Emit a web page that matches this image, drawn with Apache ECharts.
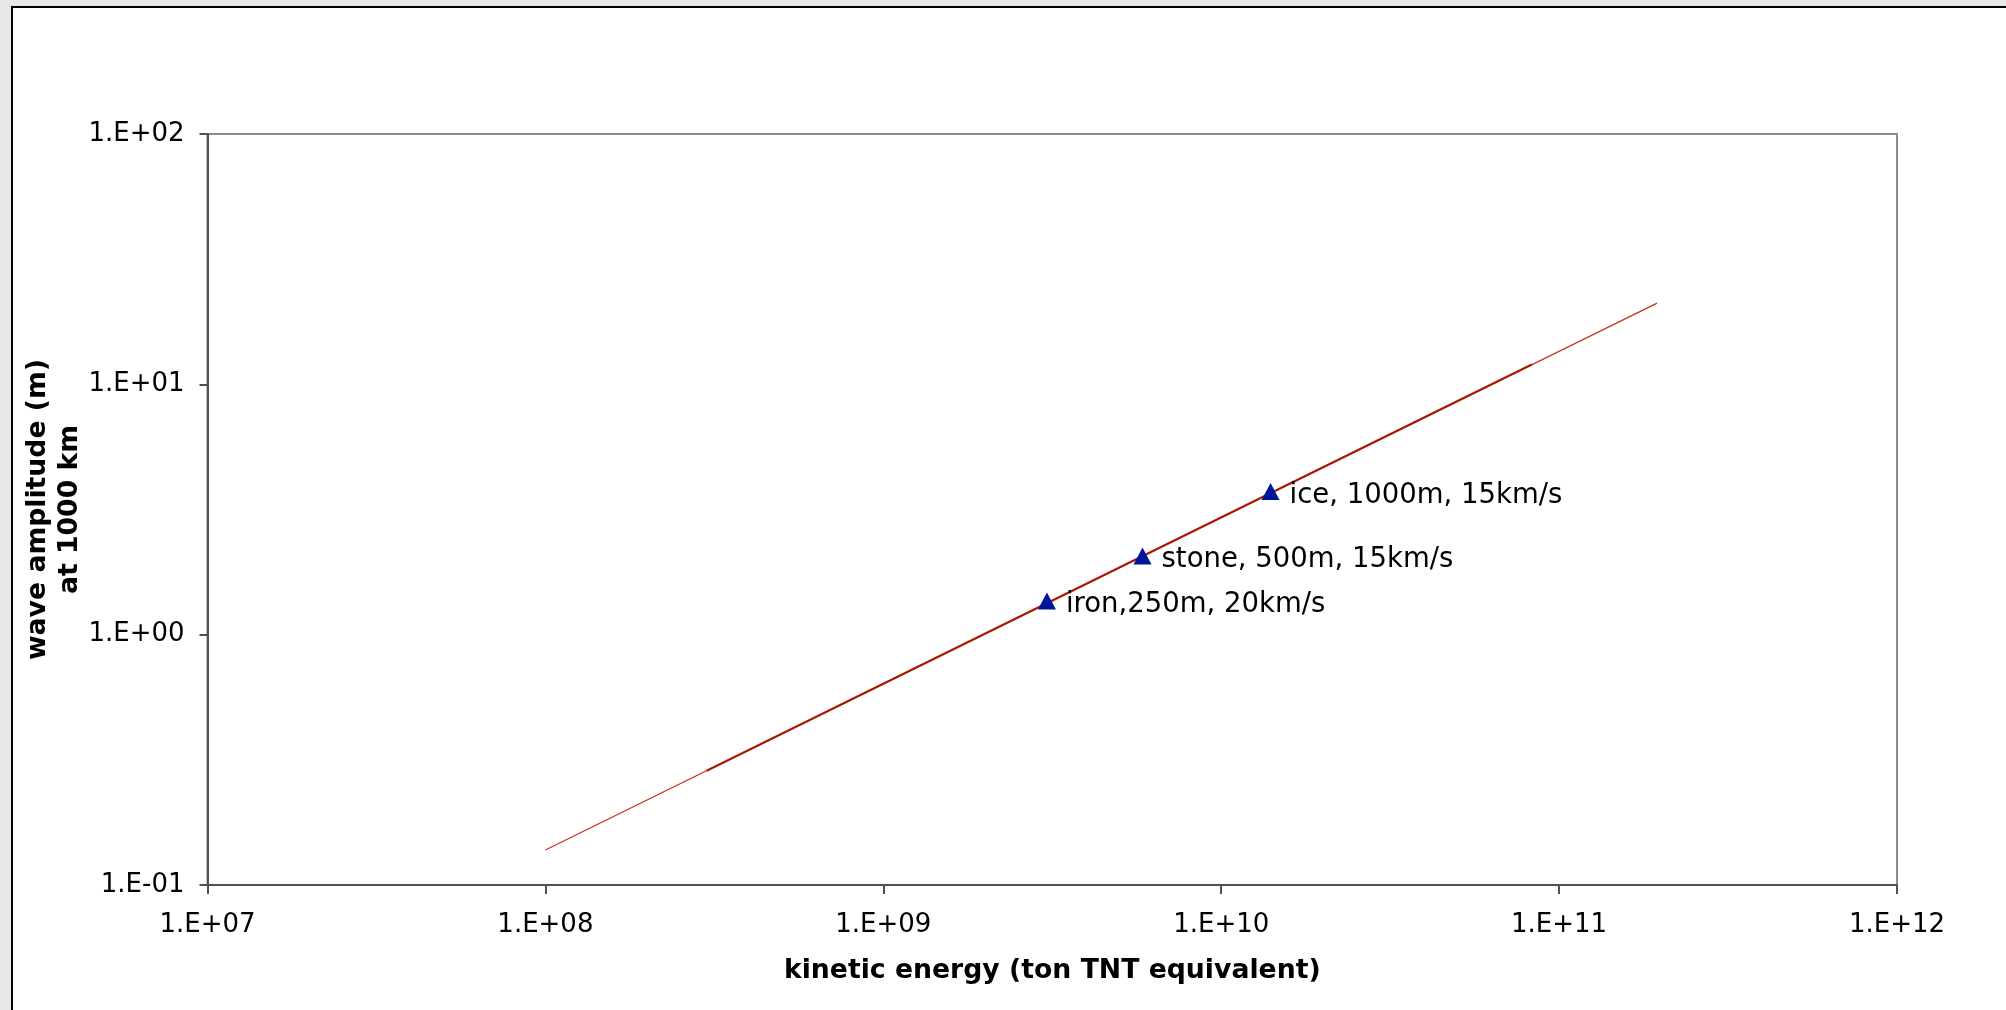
<!DOCTYPE html>
<html>
<head>
<meta charset="utf-8">
<script src="https://cdn.jsdelivr.net/npm/echarts@6/dist/echarts.min.js"></script>
<style>
html,body{margin:0;padding:0;background:#e8e8e8;}
#c{width:2006px;height:1010px;}
</style>
</head>
<body>
<div id="c"></div>
<script>
// Data
var xTicks = [1e7, 1e8, 1e9, 1e10, 1e11, 1e12];
var yTicks = [0.1, 1, 10, 100];
var fitLine = [[1e8, 0.138], [1.95e11, 21.1]];
var fitLineDark = [[3e8, 0.286], [8.3e10, 12.0]];
var pointNames = ['iron,250m, 20km/s', 'stone, 500m, 15km/s', 'ice, 1000m, 15km/s'];
var pointEnergy = [3.05e9, 5.85e9, 1.40e10];
var pointAmplitude = [1.364, 2.06, 3.73];

function sci(v) {
  var e = Math.round(Math.log10(v));
  var s = Math.abs(e) < 10 ? '0' + Math.abs(e) : '' + Math.abs(e);
  return '1.E' + (e < 0 ? '-' : '+') + s;
}

var pts = pointNames.map(function (n, i) {
  return { name: n, value: [pointEnergy[i], pointAmplitude[i]] };
});

var FONT = 'DejaVu Sans';
var chart = echarts.init(document.getElementById('c'));
chart.setOption({
  backgroundColor: '#e8e8e8',
  animation: false,
  graphic: [{
    type: 'rect',
    shape: { x: 12, y: 7, width: 2010, height: 1020 },
    style: { fill: '#ffffff', stroke: '#000000', lineWidth: 2 },
    z: -10
  }],
  grid: {
    left: 207.5, right: 109, top: 134, bottom: 125,
    show: true, borderColor: '#8c8c8c', borderWidth: 2, backgroundColor: 'transparent'
  },
  xAxis: {
    type: 'log', logBase: 10, min: xTicks[0], max: xTicks[xTicks.length - 1],
    name: 'kinetic energy (ton TNT equivalent)',
    nameLocation: 'middle', nameGap: 73, nameMoveOverlap: false,
    nameTextStyle: { fontFamily: FONT, fontSize: 26.7, fontWeight: 'bold', color: '#000' },
    axisLine: { show: true, lineStyle: { color: '#505050', width: 2 } },
    axisTick: { show: true, length: 9, lineStyle: { color: '#505050', width: 2 } },
    minorTick: { show: false },
    splitLine: { show: false },
    axisLabel: { formatter: sci, fontFamily: FONT, fontSize: 26, color: '#000', margin: 27 }
  },
  yAxis: {
    type: 'log', logBase: 10, min: yTicks[0], max: yTicks[yTicks.length - 1],
    name: 'wave amplitude (m)\nat 1000 km',
    nameLocation: 'middle', nameGap: 121, nameRotate: 90, nameMoveOverlap: false,
    nameTextStyle: { fontFamily: FONT, fontSize: 26.7, fontWeight: 'bold', color: '#000', lineHeight: 32, align: 'center' },
    axisLine: { show: true, lineStyle: { color: '#505050', width: 2 } },
    axisTick: { show: true, length: 8, lineStyle: { color: '#505050', width: 2 } },
    minorTick: { show: false },
    splitLine: { show: false },
    axisLabel: { formatter: sci, fontFamily: FONT, fontSize: 26, color: '#000', margin: 23 }
  },
  series: [
    {
      type: 'line', data: fitLine, symbol: 'none', silent: true,
      lineStyle: { color: '#c83222', width: 1.3 }, z: 2
    },
    {
      type: 'line', data: fitLineDark, symbol: 'none', silent: true,
      lineStyle: { color: '#a81a00', width: 2 }, z: 3
    },
    {
      type: 'scatter', data: pts, symbol: 'triangle', symbolSize: [18, 17],
      itemStyle: { color: '#00169a', opacity: 1 }, z: 5,
      label: {
        show: true, position: 'right', distance: 10, offset: [0, 4],
        formatter: function (p) { return p.name; },
        fontFamily: FONT, fontSize: 27.5, color: '#000000',
        textBorderWidth: 0, textShadowBlur: 0
      }
    }
  ]
});
</script>
</body>
</html>
